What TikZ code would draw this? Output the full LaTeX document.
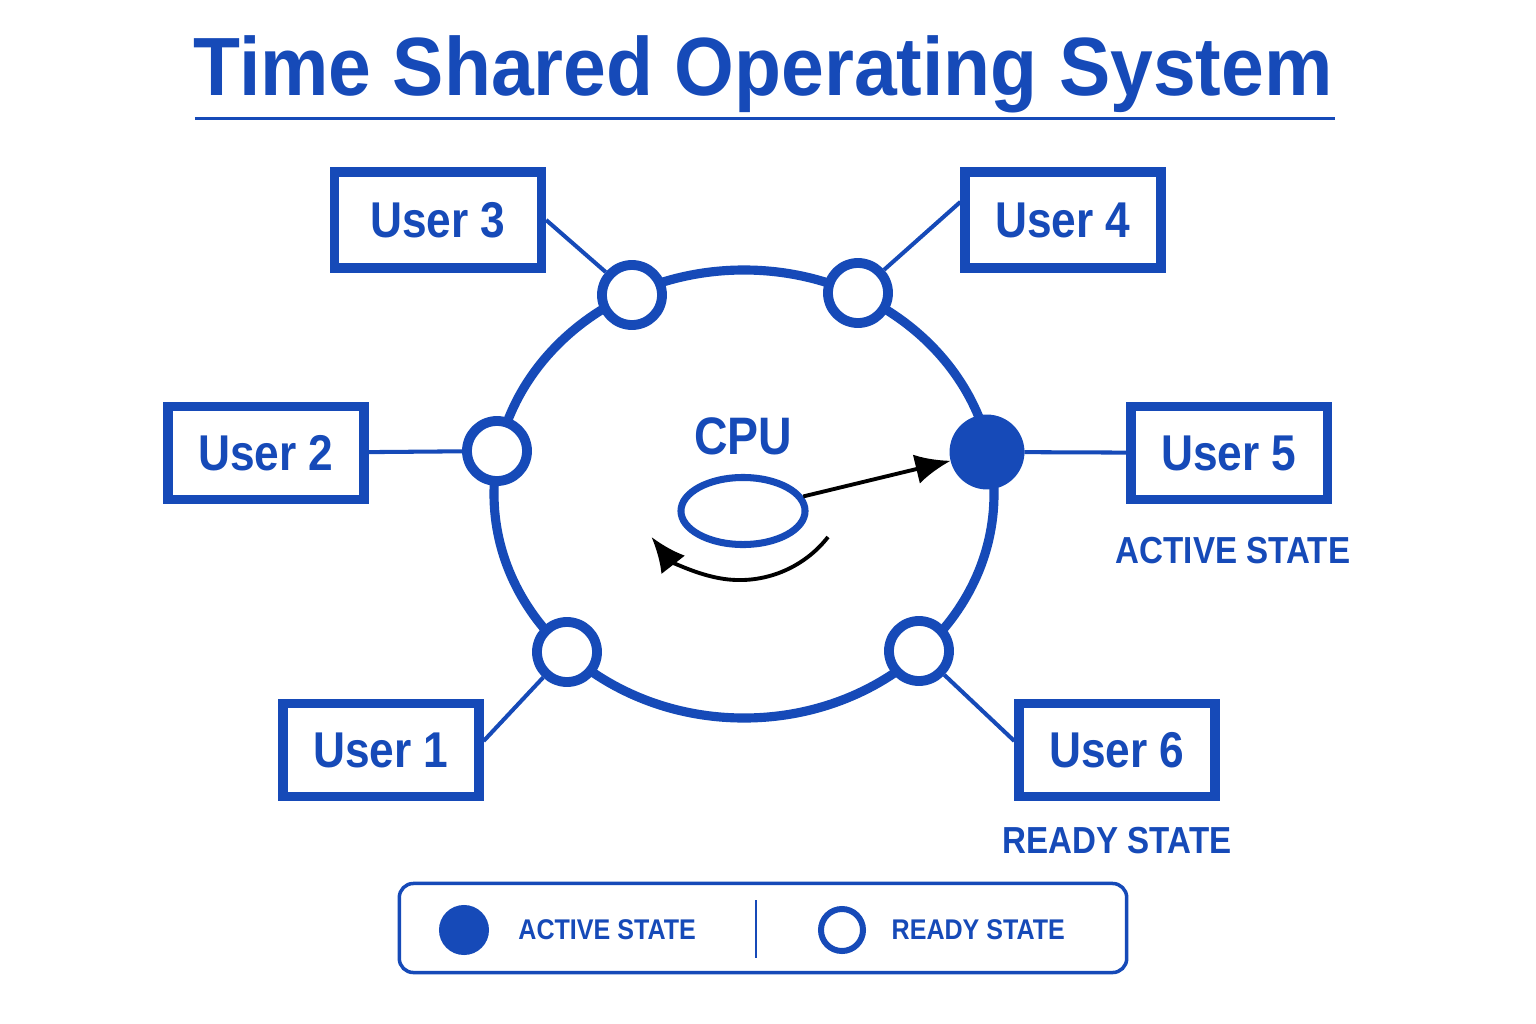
\documentclass[tikz,border=0pt]{standalone}
\usepackage{fontspec}
\setmainfont{Liberation Sans}[FakeStretch=0.88]
\newfontfamily\titlefont{Liberation Sans}[FakeStretch=0.93]
\usetikzlibrary{arrows.meta, positioning, shapes.geometric}
\definecolor{osblue}{RGB}{22,74,184}

\begin{document}
\begin{tikzpicture}[x=0.01cm, y=0.01cm,
  user/.style={draw=osblue, line width=2.6pt, minimum width=1.96cm, minimum height=0.93cm, inner sep=0pt, font=\fontsize{14.3}{16}\selectfont\bfseries, text=osblue},
  slot/.style={circle, draw=osblue, line width=2.8pt, fill=white, minimum size=0.6cm, inner sep=0pt},
  running/.style={slot, fill=osblue, minimum size=0.65cm},
  link/.style={draw=osblue, line width=1.15pt},
  state/.style={font=\fontsize{10.7}{12}\selectfont\bfseries, text=osblue, inner sep=0pt},
  key/.style={font=\fontsize{8.1}{10}\selectfont\bfseries, text=osblue, inner sep=0pt},
  flow/.style={draw=black, line width=1.1pt, -{Latex[length=10pt, width=8.5pt]}}]

\path [fill=white] (0,0) rectangle (1536,-1024);

% title
\node [anchor=north, inner sep=0pt, text=osblue, font=\titlefont\fontsize{23.5}{28}\selectfont\bfseries] (title) at (763,-35) {Time Shared Operating System};
\draw [osblue, line width=0.85pt] ([xshift=0.02cm, yshift=-0.05cm]title.south west) -- ([xshift=0.02cm, yshift=-0.05cm]title.south east);

% time sharing ring
\draw [osblue, line width=2.6pt] (744,-494) ellipse [x radius=250, y radius=224];

\node [slot] (c1) at (567,-652) {};
\node [slot] (c2) at (497,-451) {};
\node [slot] (c3) at (632,-295) {};
\node [slot] (c4) at (858,-293) {};
\node [running] (c5) at (987,-452) {};
\node [slot] (c6) at (919,-651) {};

\node [user] (u1) at (381,-750) {User 1};
\node [user] (u2) at (266,-453) {User 2};
\node [user, minimum width=2.07cm, minimum height=0.96cm] (u3) at (438,-220) {User 3};
\node [user, minimum height=0.96cm] (u4) at (1063,-220) {User 4};
\node [user] (u5) at (1229,-453) {User 5};
\node [user] (u6) at (1117,-750) {User 6};

\node [state, below=0.32cm of u5, xshift=0.04cm] (u5state) {ACTIVE STATE};
\node [state, below=0.25cm of u6] (u6state) {READY STATE};

\path [link] (u1.5) -- (c1);
\path [link] (u2) -- (c2);
\path [link] (u3.east) -- (c3);
\path [link] (u4.170) -- (c4);
\path [link] (c5) -- (u5);
\path [link] (c6) -- (u6.175);

% cpu
\node [ellipse, draw=osblue, line width=2pt, minimum width=1.24cm, minimum height=0.67cm, inner sep=0pt] (cpu) at (743,-511) {};
\node [above=0.18cm of cpu, inner sep=0pt, text=osblue, font=\fontsize{15}{17}\selectfont\bfseries] (cpulabel) {CPU};
\path [flow] (cpu) -- (c5);
\coordinate (loopstart) at ([shift={(85,-26)}]cpu.center);
\path [flow] (loopstart) arc [start angle=-38, end angle=-142, radius=112];

% legend
\node [draw=osblue, line width=1pt, rounded corners=4pt, minimum width=7.27cm, minimum height=0.89cm] (legend) at (763,-928) {};
\node [circle, fill=osblue, minimum size=0.5cm, inner sep=0pt] (keyactive) at (464,-930) {};
\node [key, right=0.28cm of keyactive] (keyactivetext) {ACTIVE STATE};
\coordinate (divtop) at (756,-900);
\coordinate (divbot) at (756,-958);
\draw [osblue, line width=0.6pt] (divtop) -- (divbot);
\node [circle, draw=osblue, line width=1.7pt, minimum size=0.42cm, inner sep=0pt] (keyready) at (842,-930) {};
\node [key, right=0.25cm of keyready] (keyreadytext) {READY STATE};

\end{tikzpicture}
\end{document}
